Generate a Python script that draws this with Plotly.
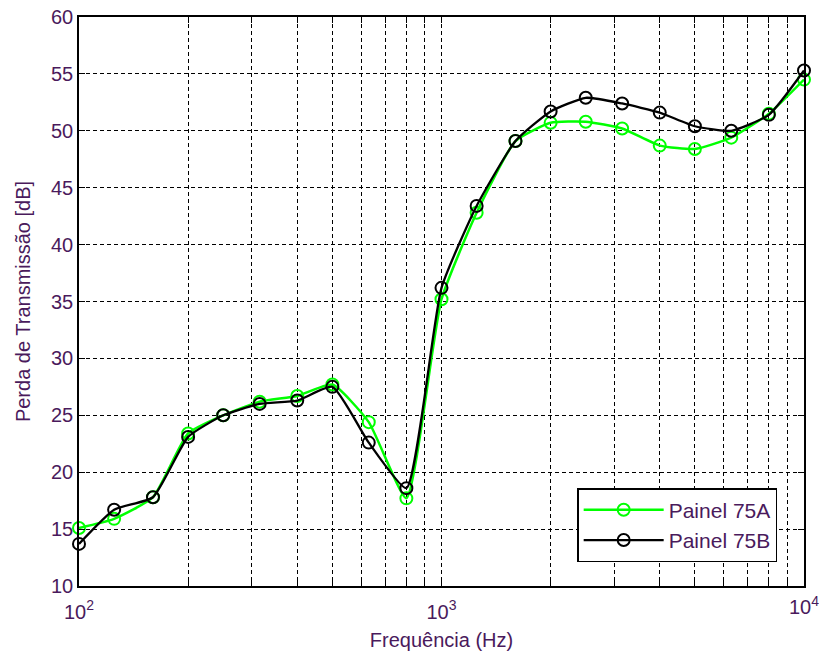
import plotly.graph_objects as go

freqs = [100, 125, 160, 200, 250, 315, 400, 500, 630, 800, 1000, 1250, 1600,
         2000, 2500, 3150, 4000, 5000, 6300, 8000, 10000]
painel_75a = [15.1, 15.9, 17.8, 23.4, 25.0, 26.2, 26.7, 27.7, 24.4, 17.7, 35.2,
              42.8, 49.1, 50.7, 50.8, 50.2, 48.7, 48.4, 49.4, 51.5, 54.5]
painel_75b = [13.7, 16.7, 17.8, 23.1, 25.0, 26.0, 26.3, 27.5, 22.6, 18.6, 36.2,
              43.4, 49.1, 51.7, 52.9, 52.4, 51.6, 50.4, 50.0, 51.4, 55.3]

x_major = [100, 1000, 10000]
x_major_text = ["10<sup>2</sup>", "10<sup>3</sup>", ""]
x_end_label = "10<sup>4</sup>"
x_minor = [m * d for d in (100, 1000) for m in range(2, 10)]
y_ticks = [10, 15, 20, 25, 30, 35, 40, 45, 50, 55, 60]

txt = "#4a1a5c"
font = "Liberation Sans, Arial, sans-serif"

fig = go.Figure()
fig.add_trace(go.Scatter(
    x=freqs, y=painel_75a, name="Painel 75A", mode="lines+markers",
    line=dict(color="#00ff00", width=2.5, shape="spline", smoothing=0.5),
    marker=dict(symbol="circle-open", size=12, color="#00ff00", line=dict(width=2, color="#00ff00")),
    cliponaxis=False,
))
fig.add_trace(go.Scatter(
    x=freqs, y=painel_75b, name="Painel 75B", mode="lines+markers",
    line=dict(color="#000000", width=2.3, shape="spline", smoothing=0.5),
    marker=dict(symbol="circle-open", size=12, color="#000000", line=dict(width=2, color="#000000")),
    cliponaxis=False,
))

grid = dict(gridcolor="#000000", gridwidth=1, griddash="4px,3px")

fig.update_layout(
    width=819, height=656,
    margin=dict(l=79, r=15, t=17, b=70),
    paper_bgcolor="white", plot_bgcolor="white",
    font=dict(family=font, size=20, color=txt),
    showlegend=True,
    legend=dict(x=0.963, y=0.042, xanchor="right", yanchor="bottom",
                bgcolor="white", bordercolor="#000000", borderwidth=1.5,
                font=dict(size=21, color=txt), tracegroupgap=0, itemwidth=80),
    xaxis=dict(
        type="log", range=[2, 4.00001],
        tickvals=x_major, ticktext=x_major_text,
        ticks="inside", ticklen=6, tickcolor="#000000",
        showgrid=True, **grid,
        minor=dict(tickvals=x_minor, ticks="inside", ticklen=6, tickcolor="#000000",
                   showgrid=True, **grid),
        showline=True, linecolor="#000000", linewidth=1.5, mirror="ticks",
        zeroline=False, automargin=False, ticklabelstandoff=7,
        title=dict(text="Frequência (Hz)", font=dict(size=20, color=txt), standoff=11),
        tickfont=dict(size=20, color=txt),
    ),
    yaxis=dict(
        range=[10, 60], tickvals=y_ticks,
        ticks="inside", ticklen=6, tickcolor="#000000",
        showgrid=True, **grid,
        showline=True, linecolor="#000000", linewidth=1.5, mirror="ticks",
        zeroline=False, automargin=False,
        title=dict(text="Perda de Transmissão [dB]", font=dict(size=20, color=txt), standoff=15),
        tickfont=dict(size=20, color=txt),
    ),
    annotations=[dict(
        x=4, y=0, xref="x", yref="paper", text=x_end_label, showarrow=False,
        xanchor="center", yanchor="top", yshift=-5,
        font=dict(family=font, size=20, color=txt),
    )],
)

fig.write_html(
    "out.html",
    config={"displayModeBar": False},
    post_script="document.body.style.margin='0';document.body.style.padding='0';document.body.style.overflow='hidden';",
)
